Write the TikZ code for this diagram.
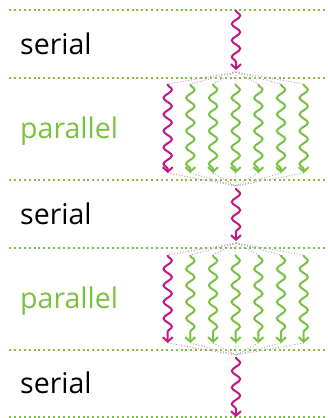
\documentclass[tikz,border=0pt]{standalone}
\usepackage{fontspec}
\newfontfamily\labelfont{Open Sans}
\usetikzlibrary{decorations.pathmorphing,arrows.meta}
\definecolor{mag}{RGB}{192,24,134}
\definecolor{lgreen}{RGB}{122,193,66}
\definecolor{fangray}{RGB}{170,170,170}
\tikzset{
  sepline/.style={draw=lgreen, line width=2pt, dash pattern=on 2pt off 2.9pt},
  wav/.style={line width=2pt, decorate,
    decoration={snake, amplitude=4.2pt, segment length=16.5pt, pre length=0.5pt, post length=3pt},
    -{Straight Barb[length=4.5pt,width=10pt]}},
  fanline/.style={draw=fangray, line width=0.9pt, dash pattern=on 1pt off 1.8pt},
  fanpink/.style={fanline, draw=mag!55},
  lbl/.style={anchor=base west, inner sep=0pt, font=\labelfont\fontsize{28.5}{30}\selectfont},
}
\begin{document}
\begin{tikzpicture}[x=1pt,y=-1pt]
\useasboundingbox (0,0) rectangle (327,418);
% separators
\foreach \yy/\n in {10/1,78/2,180/3,248/4,350/5,417/6}{
  \draw[sepline] (9,\yy) coordinate (la\n) -- (327,\yy) coordinate (lb\n);
}
% labels
\node[lbl] (t1) at (20,54.3) {serial};
\node[lbl, text=lgreen] (t2) at (20,138) {parallel};
\node[lbl] (t3) at (20,224.3) {serial};
\node[lbl, text=lgreen] (t4) at (20,308.3) {parallel};
\node[lbl] (t5) at (20,393.3) {serial};
% serial coordinates
\coordinate (s1a) at (236,10);  \coordinate (s1b) at (236,70);
\coordinate (f1) at (236,72);   \coordinate (g1) at (236,186);
\coordinate (s2a) at (236,188); \coordinate (s2b) at (236,241);
\coordinate (f2) at (236,243);  \coordinate (g2) at (236,355);
\coordinate (s3a) at (236,357); \coordinate (s3b) at (236,417);
% parallel coordinates
\foreach \k in {0,...,6}{
  \pgfmathsetmacro{\xx}{167.7+22.67*\k}
  \coordinate (pa\k) at (\xx,84);  \coordinate (pb\k) at (\xx,173);
  \coordinate (qa\k) at (\xx,255); \coordinate (qb\k) at (\xx,343);
}
% fan lines
\foreach \k in {1,...,6}{
  \draw[fanline] (f1) -- (pa\k);
  \draw[fanline] (pb\k) -- (g1);
  \draw[fanline] (f2) -- (qa\k);
  \draw[fanline] (qb\k) -- (g2);
}
\draw[fanpink] (f1) -- (pa0);
\draw[fanpink] (pb0) -- (g1);
\draw[fanpink] (f2) -- (qa0);
\draw[fanpink] (qb0) -- (g2);
% serial arrows
\draw[wav, mag] (s1a) -- (s1b);
\draw[wav, mag] (s2a) -- (s2b);
\draw[wav, mag] (s3a) -- (s3b);
% parallel arrows
\draw[wav, mag] (pa0) -- (pb0);
\draw[wav, mag] (qa0) -- (qb0);
\foreach \k in {1,...,6}{
  \draw[wav, lgreen] (pa\k) -- (pb\k);
  \draw[wav, lgreen] (qa\k) -- (qb\k);
}
\end{tikzpicture}
\end{document}
